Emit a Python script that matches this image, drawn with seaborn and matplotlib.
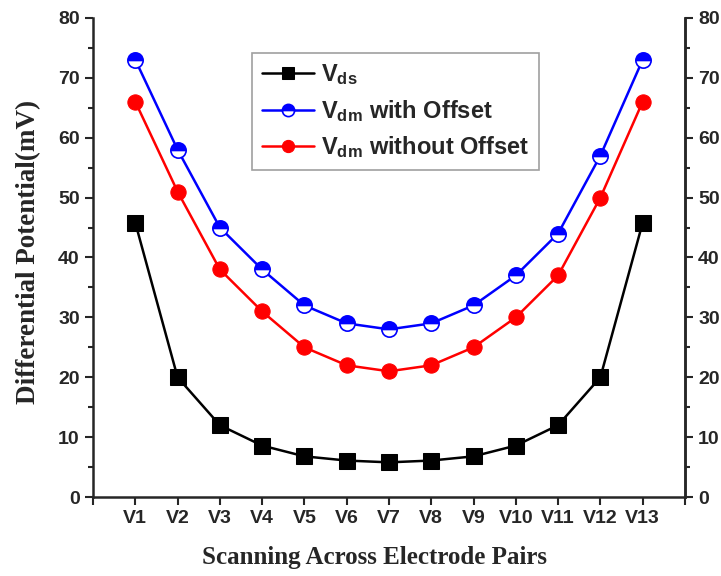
import matplotlib
matplotlib.use('Agg')
import matplotlib.pyplot as plt
import seaborn as sns
import numpy as np
import pandas as pd
from matplotlib.ticker import MultipleLocator

pairs = ['V1', 'V2', 'V3', 'V4', 'V5', 'V6', 'V7', 'V8', 'V9', 'V10', 'V11', 'V12', 'V13']
v_ds = [45.8, 20, 12, 8.6, 6.8, 6.1, 5.8, 6.1, 6.8, 8.6, 12, 20, 45.8]
v_dm_offset = [73, 58, 45, 38, 32, 29, 28, 29, 32, 37, 44, 57, 73]
v_dm_no_offset = [66, 51, 38, 31, 25, 22, 21, 22, 25, 30, 37, 50, 66]

pos = np.arange(1, len(pairs) + 1)
df = pd.DataFrame({'pos': pos, 'ds': v_ds, 'off': v_dm_offset, 'nooff': v_dm_no_offset})

sns.set_theme(style='ticks')
plt.rcParams['font.family'] = ['Liberation Sans', 'DejaVu Sans']
plt.rcParams['font.weight'] = 'bold'
plt.rcParams['mathtext.fontset'] = 'custom'
plt.rcParams['mathtext.rm'] = 'Liberation Sans:bold'
plt.rcParams['mathtext.bf'] = 'Liberation Sans:bold'
plt.rcParams['mathtext.it'] = 'Liberation Sans:bold'

fig = plt.figure(figsize=(7.21, 5.76), dpi=100)
ax = fig.add_axes([0.129, 0.137, 0.821, 0.832])

sns.lineplot(data=df, x='pos', y='ds', ax=ax, color='black', lw=1.8,
             marker='s', markersize=11, markeredgecolor='black', label=r'$\mathrm{V_{ds}}$')
sns.lineplot(data=df, x='pos', y='off', ax=ax, color='blue', lw=1.8,
             marker='o', markersize=11, fillstyle='top', markerfacecolor='blue',
             markerfacecoloralt='white', markeredgecolor='blue', markeredgewidth=1.2,
             label=r'$\mathrm{V_{dm}}$ with Offset')
sns.lineplot(data=df, x='pos', y='nooff', ax=ax, color='red', lw=1.8,
             marker='o', markersize=11, markeredgecolor='red',
             label=r'$\mathrm{V_{dm}}$ without Offset')

ax.set_xlim(0, 14)
ax.set_ylim(0, 80)
ax.set_xticks(np.arange(0, 15))
ax.set_xticklabels([''] + pairs + [''])
ax.yaxis.set_major_locator(MultipleLocator(10))
ax.yaxis.set_minor_locator(MultipleLocator(5))
ax.tick_params(axis='both', which='major', direction='out', length=6, width=1.5, labelsize=14)
ax.tick_params(axis='y', which='minor', direction='out', length=3.5, width=1.5)
for lab in ax.get_xticklabels() + ax.get_yticklabels():
    lab.set_fontweight('bold')
for s in ['left', 'bottom', 'right']:
    ax.spines[s].set_linewidth(1.8)
ax.spines['top'].set_visible(False)

ax.set_xlabel('Scanning Across Electrode Pairs', family=['Liberation Serif'],
              fontweight='bold', fontsize=18)
ax.xaxis.set_label_coords(0.476, -0.102)
ax.set_ylabel('Differential Potential(mV)', family=['Liberation Serif'],
              fontweight='bold', fontsize=19.5)
ax.yaxis.set_label_coords(-0.087, 0.511)

ax2 = ax.twinx()
ax2.set_ylim(0, 80)
ax2.yaxis.set_major_locator(MultipleLocator(10))
ax2.yaxis.set_minor_locator(MultipleLocator(5))
ax2.tick_params(axis='y', which='major', direction='out', length=6, width=1.5, labelsize=14)
ax2.tick_params(axis='y', which='minor', direction='out', length=3.5, width=1.5)
for lab in ax2.get_yticklabels():
    lab.set_fontweight('bold')
for s in ['top', 'left', 'bottom']:
    ax2.spines[s].set_visible(False)
ax2.spines['right'].set_linewidth(1.8)

leg = ax.legend(loc='upper left', bbox_to_anchor=(0.269, 0.927), borderaxespad=0,
                fontsize=17, frameon=True, fancybox=False, edgecolor='#888888',
                handlelength=2.2, handletextpad=0.3, labelspacing=0.45, borderpad=0.4,
                markerscale=0.8)
leg.get_frame().set_linewidth(1.2)

fig.savefig('out.png', dpi=100)
